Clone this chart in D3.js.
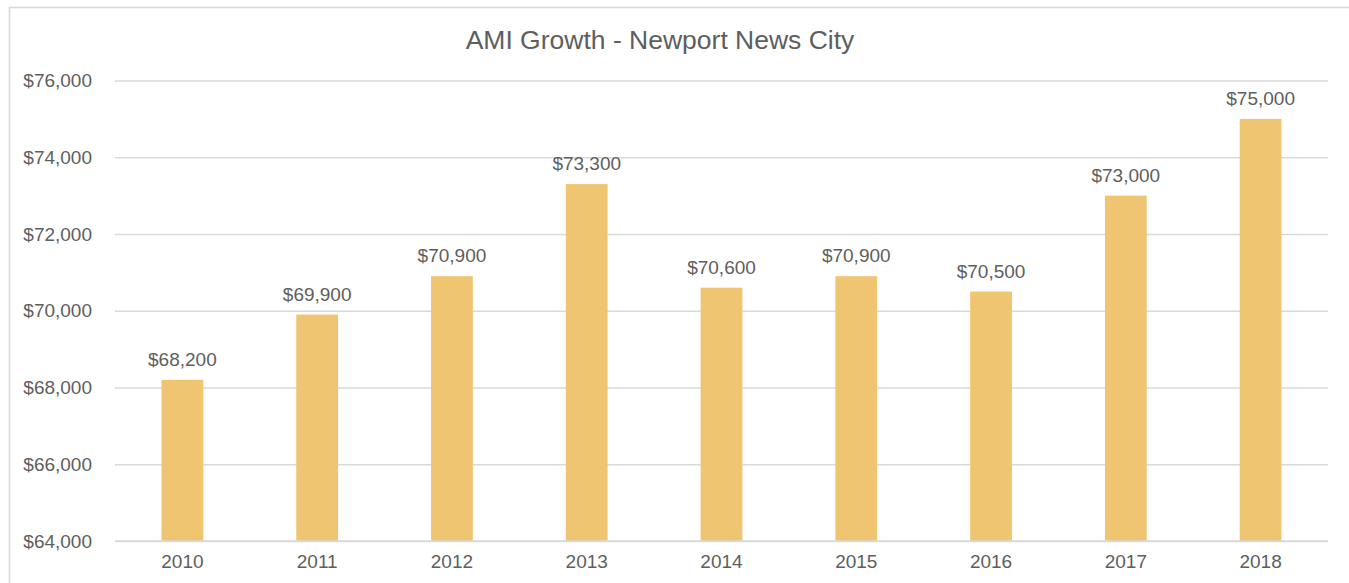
<!DOCTYPE html>
<html>
<head>
<meta charset="utf-8">
<script src="https://cdn.jsdelivr.net/npm/d3@7"></script>
<style>
  html, body { margin: 0; padding: 0; background: #fff; }
  svg { display: block; font-family: "Liberation Sans", Arial, sans-serif; }
</style>
</head>
<body>
<svg id="chart" width="1349" height="583"></svg>
<script>
// Area median income by year
const years = ["2010", "2011", "2012", "2013", "2014", "2015", "2016", "2017", "2018"];
const ami = [68200, 69900, 70900, 73300, 70600, 70900, 70500, 73000, 75000];
const yTicks = [64000, 66000, 68000, 70000, 72000, 74000, 76000];
const chartTitle = "AMI Growth - Newport News City";

const svg = d3.select("#chart");
const W = 1349, H = 583;
const plot = { left: 115, right: 1328, top: 80.5, bottom: 541 };
const textColor = "#5e5e5e";
const gridColor = "#d9d9d9";
const barColor = "#F0C571";

// chart frame
svg.append("rect")
  .attr("x", 9.5).attr("y", 7.5)
  .attr("width", W).attr("height", H)
  .attr("fill", "none")
  .attr("stroke", gridColor)
  .attr("stroke-width", 1.6);

const x = d3.scaleBand()
  .domain(years)
  .range([plot.left, plot.right])
  .paddingInner(0.69)
  .paddingOuter(0.345);

const y = d3.scaleLinear()
  .domain([64000, 76000])
  .range([plot.bottom, plot.top]);

const money = d3.format("$,");

// horizontal gridlines + y labels
const yAxis = d3.axisLeft(y)
  .tickValues(yTicks)
  .tickSize(-(plot.right - plot.left))
  .tickPadding(23)
  .tickFormat(money);

const gy = svg.append("g")
  .attr("transform", `translate(${plot.left},0)`)
  .call(yAxis);
gy.select(".domain").remove();
gy.selectAll(".tick line").attr("stroke", gridColor).attr("stroke-width", 1.4);
gy.selectAll(".tick text")
  .attr("fill", textColor)
  .attr("font-size", 19)
  .attr("font-family", "Liberation Sans, Arial, sans-serif");

// bars
svg.append("g").selectAll("rect")
  .data(years)
  .join("rect")
  .attr("x", d => x(d))
  .attr("width", x.bandwidth())
  .attr("y", (d, i) => y(ami[i]))
  .attr("height", (d, i) => y(64000) - y(ami[i]))
  .attr("fill", barColor);

// baseline drawn over bars
svg.append("line")
  .attr("x1", plot.left).attr("x2", plot.right)
  .attr("y1", y(64000)).attr("y2", y(64000))
  .attr("stroke", gridColor).attr("stroke-width", 1.4);

// value labels
svg.append("g").selectAll("text")
  .data(years)
  .join("text")
  .attr("x", d => x(d) + x.bandwidth() / 2)
  .attr("y", (d, i) => y(ami[i]) - 14)
  .attr("text-anchor", "middle")
  .attr("font-size", 19)
  .attr("fill", textColor)
  .text((d, i) => money(ami[i]));

// x axis labels
const xAxis = d3.axisBottom(x).tickSize(0).tickPadding(14);
const gx = svg.append("g")
  .attr("transform", `translate(0,${plot.bottom})`)
  .call(xAxis);
gx.select(".domain").remove();
gx.selectAll(".tick text")
  .attr("fill", textColor)
  .attr("font-size", 19)
  .attr("font-family", "Liberation Sans, Arial, sans-serif");

// title
svg.append("text")
  .attr("x", 660)
  .attr("y", 49)
  .attr("text-anchor", "middle")
  .attr("font-size", 26.5)
  .attr("fill", textColor)
  .text(chartTitle);
</script>
</body>
</html>
